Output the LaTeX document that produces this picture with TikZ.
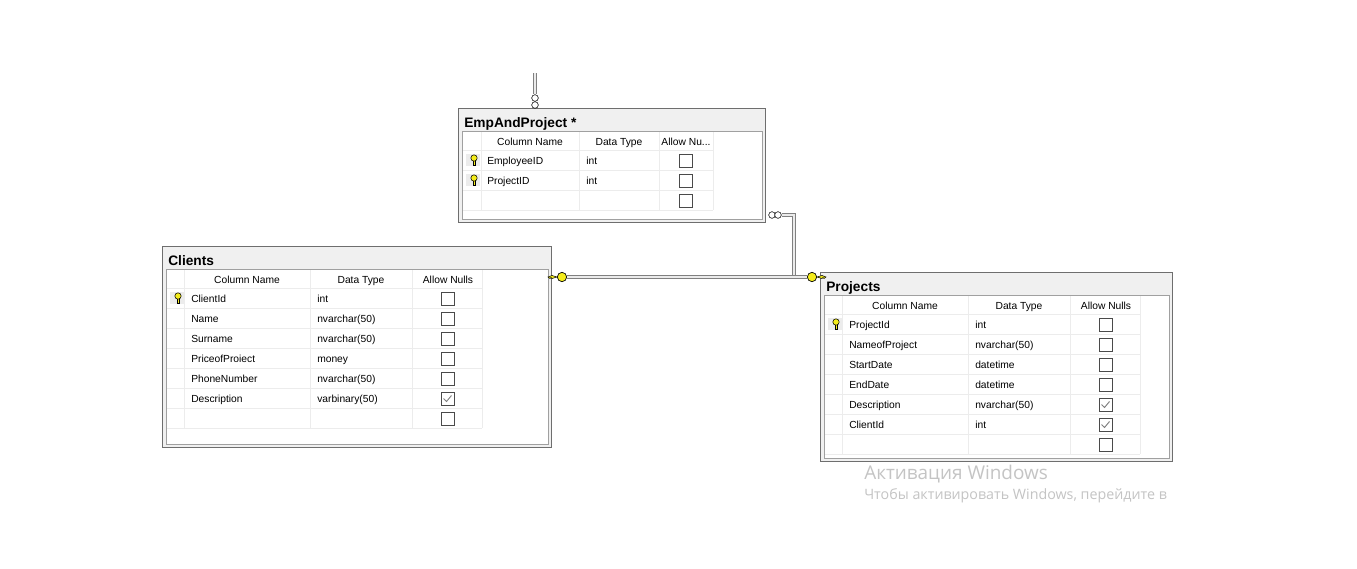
\documentclass[tikz,border=0pt]{standalone}
\usepackage{fontspec}
\setmainfont{Liberation Sans}
\newfontfamily\wmfont{Open Sans}
\definecolor{framegray}{HTML}{6E6E6E}
\definecolor{innergray}{HTML}{A0A0A0}
\definecolor{bandgray}{HTML}{F0F0F0}
\definecolor{cellgray}{HTML}{ECECEC}
\definecolor{boxgray}{HTML}{4A4A4A}
\definecolor{keyyellow}{HTML}{F4EC1C}
\definecolor{wmgray}{HTML}{C4C4C4}
\tikzset{
  cell/.style={anchor=base west, inner sep=0pt, font=\fontsize{7.7}{10}\selectfont},
  headcell/.style={anchor=base, inner sep=0pt, font=\fontsize{7.7}{10}\selectfont},
  tabtitle/.style={anchor=base west, inner sep=0pt, font=\fontsize{10.3}{12}\selectfont\bfseries},
  relline/.style={draw=black!50, line width=.7pt, double=black!8, double distance=1.2pt},
  wmark/.style={anchor=base west, inner sep=0pt, text=wmgray},
  keybig/.style={circle, draw=black, fill=keyyellow, line width=.5pt, inner sep=0pt, minimum size=7pt},
  infring/.style={circle, draw=black, fill=white, line width=.4pt, inner sep=0pt, minimum size=5pt},
}
% #1 left #2 top #3 right #4 bottom #5 to #8 column lines #9 last row line
\newcommand{\tabframe}[9]{
  \draw[draw=framegray, fill=bandgray, line width=.95pt] (#1-.5,#2-.5) rectangle (#3+.5,#4+.5);
  \draw[draw=innergray, fill=white, line width=.7pt] (#1+3,#2+22) rectangle (#3-3,#4-3);
  \foreach \ly in {0,...,#9} {\draw[cellgray, line width=.7pt] (#1+4,#2+41+20*\ly) -- (#8,#2+41+20*\ly);}
  \foreach \lx in {#5,#6,#7,#8} {\draw[cellgray, line width=.7pt] (\lx,#2+23) -- (\lx,#2+41+20*#9);}
}
\newcommand{\chkbox}[3]{
  \draw[boxgray, fill=white, line width=.6pt] (#1-6,#2-6) rectangle (#1+7,#2+7);
  \ifnum#3=1 \draw[gray, line width=.7pt] (#1-3.5,#2+.5) -- (#1-.5,#2+3.5) -- (#1+4.5,#2-2.5); \fi
}
\newcommand{\keysmall}[2]{
  \fill[cellgray] (#1-8,#2-6) rectangle (#1+6,#2+6);
  \filldraw[draw=black, fill=keyyellow, line width=.4pt] (#1-1.2,#2-1) rectangle (#1+1.2,#2+5);
  \filldraw[draw=black, fill=keyyellow, line width=.4pt] (#1,#2-2) circle (3.2);
}
\begin{document}
\begin{tikzpicture}[x=.75pt, y=-.75pt]
  \useasboundingbox (0,0) rectangle (1357,568);
  \fill[white] (0,0) rectangle (1357,568);

  % EmpAndProject
  \tabframe{459}{109}{765}{222}{481}{579}{659}{713}{3}
  \node[tabtitle] (empTitle) at (464,127) {EmpAndProject *};
  \node[headcell] (empCol) at (530,145) {Column Name};
  \node[headcell] (empType) at (619,145) {Data Type};
  \node[headcell] (empNull) at (686,145) {Allow Nu...};
  \node[cell] (empA) at (487,164) {EmployeeID};
  \node[cell] (empAt) at (586,164) {int};
  \node[cell] (empB) at (487,184) {ProjectID};
  \node[cell] (empBt) at (586,184) {int};
  \keysmall{474}{160}
  \keysmall{474}{180}
  \foreach \y in {160,180,200} {\chkbox{685}{\y}{0}}

  % Clients
  \tabframe{163}{247}{551}{447}{184}{310}{412}{482}{7}
  \node[tabtitle] (cliTitle) at (168,265) {Clients};
  \node[headcell] (cliCol) at (247,283) {Column Name};
  \node[headcell] (cliType) at (361,283) {Data Type};
  \node[headcell] (cliNull) at (448,283) {Allow Nulls};
  \foreach \n/\y/\a/\b/\c in {1/298/ClientId/int/0, 2/318/Name/nvarchar(50)/0, 3/338/Surname/nvarchar(50)/0,
      4/358/PriceofProiect/money/0, 5/378/PhoneNumber/nvarchar(50)/0, 6/398/Description/varbinary(50)/1} {
    \node[cell] (cliName\n) at (191,\y+4) {\a};
    \node[cell] (cliData\n) at (317,\y+4) {\b};
    \chkbox{447}{\y}{\c}
  }
  \chkbox{447}{418}{0}
  \keysmall{178}{298}

  % Projects
  \tabframe{821}{273}{1172}{461}{842}{968}{1070}{1140}{7}
  \node[tabtitle] (proTitle) at (826,291) {Projects};
  \node[headcell] (proCol) at (905,309) {Column Name};
  \node[headcell] (proType) at (1019,309) {Data Type};
  \node[headcell] (proNull) at (1106,309) {Allow Nulls};
  \foreach \n/\y/\a/\b/\c in {1/324/ProjectId/int/0, 2/344/NameofProject/nvarchar(50)/0, 3/364/StartDate/datetime/0,
      4/384/EndDate/datetime/0, 5/404/Description/nvarchar(50)/1, 6/424/ClientId/int/1} {
    \node[cell] (proName\n) at (849,\y+4) {\a};
    \node[cell] (proData\n) at (975,\y+4) {\b};
    \chkbox{1105}{\y}{\c}
  }
  \chkbox{1105}{444}{0}
  \keysmall{836}{324}

  % relationship ends
  \coordinate (topEnd) at (535,73);
  \coordinate (elbow) at (794,215);
  \coordinate (joint) at (794,275);
  \node[keybig] (keyCli) at (562,277) {};
  \node[keybig] (keyPro) at (812,277) {};
  \node[infring] (ringEmpA) at (772,215) {};
  \node[infring] (ringEmpB) at (778,215) {};
  \node[infring] (ringTopA) at (535,98) {};
  \node[infring] (ringTopB) at (535,105) {};

  \draw[draw=black, fill=keyyellow, line width=.4pt] (keyCli.west) -- ++(-5,-1.5) -- ++(-4,1.5) -- ++(2,1.5) -- ++(1,-1) -- ++(1,1) -- cycle;
  \draw[draw=black, fill=keyyellow, line width=.4pt] (keyPro.east) -- ++(5,-1.5) -- ++(4,1.5) -- ++(-2,1.5) -- ++(-1,-1) -- ++(-1,1) -- cycle;

  \draw[relline] (ringEmpB.east) -- (elbow) -- (joint);
  \draw[relline] (keyCli.east) -- (keyPro.west);
  \draw[relline] (topEnd) -- (ringTopA.north);

  % watermark
  \node[wmark, font=\wmfont\fontsize{14.2}{16}\selectfont] (wmA) at (864,479) {Активация Windows};
  \node[wmark, font=\wmfont\fontsize{10.7}{12}\selectfont] (wmB) at (864,499) {Чтобы активировать Windows, перейдите в};
\end{tikzpicture}
\end{document}
